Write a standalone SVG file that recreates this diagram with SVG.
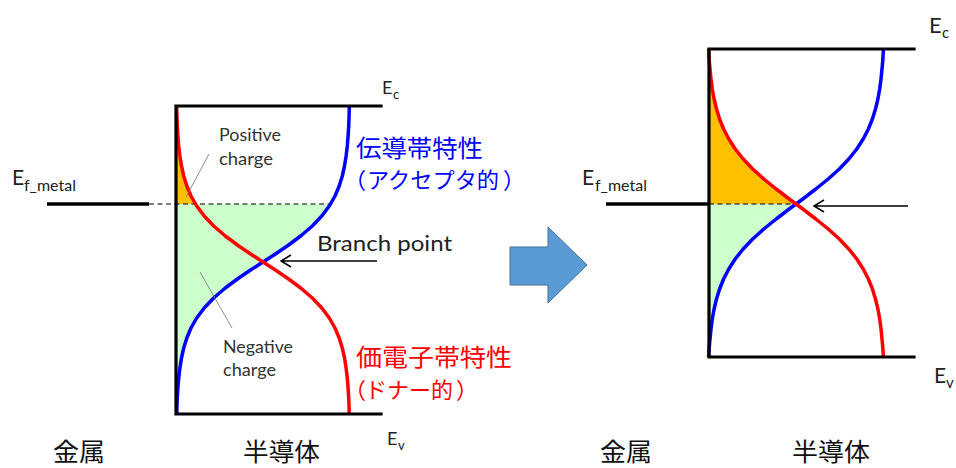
<svg xmlns="http://www.w3.org/2000/svg" xmlns:xlink="http://www.w3.org/1999/xlink" width="956" height="468" viewBox="0 0 956 468">
  <style>
    .lat { font-family: Lato, "Liberation Sans", sans-serif; fill: #222; }
    .note { font-family: Lato, "Liberation Sans", sans-serif; fill: #333; font-size: 17px; }
    .jp { font-family: "Noto Sans CJK JP", "Noto Sans", sans-serif; }
    .band { stroke: #000; stroke-width: 3.2; fill: none; stroke-linecap: square; }
    .ef { stroke: #000; stroke-width: 3.5; fill: none; }
    .dash { stroke: #000; stroke-width: 1.2; stroke-dasharray: 5 3.5; fill: none; }
    .blue { stroke: #0000FF; stroke-width: 3.5; fill: none; stroke-linejoin: round; }
    .red { stroke: #FF0000; stroke-width: 3.5; fill: none; stroke-linejoin: round; }
    .pos { fill: #FFC000; }
    .neg { fill: #CCFFCC; }
    .lead { stroke: #808080; stroke-width: 0.9; }
    .arr { stroke: #000; stroke-width: 1.5; fill: none; }
  </style>
  <defs>
    <!-- acceptor-like (conduction band) state curves; the donor-like curves are their mirror images -->
    <path id="curveL" d="M349.3,106 L349.1,116 L348.7,126 L348.1,136 L347.3,146 L346.1,156 L344.5,166 L342.3,176 L339.2,186 L335,196 L329.3,206 L321.8,216 L312.3,226 L300.7,236 L287.2,246 L275.4,254 L263,262 L250.6,270 L238.8,278 L225.3,288 L213.7,298 L204.2,308 L196.7,318 L191,328 L186.8,338 L183.7,348 L181.5,358 L179.9,368 L178.7,378 L177.9,388 L177.3,398 L176.9,408 L176.8,414"/>
    <path id="curveR" d="M883.4,49 L882.9,59 L882,69 L881,79 L879.7,89 L877.9,99 L875.5,109 L872.4,119 L868.4,129 L863.2,139 L856.8,149 L848.8,159 L839.3,169 L828.2,179 L815.8,189 L802.8,199 L796,204 L789.2,209 L776.2,219 L763.8,229 L752.7,239 L743.2,249 L735.2,259 L728.8,269 L723.6,279 L719.6,289 L716.5,299 L714.1,309 L712.3,319 L711,329 L710,339 L709.1,349 L708.6,357"/>
  </defs>

  <!-- left: metal / semiconductor interface before equilibrium -->
  <g id="left-diagram">
    <g id="left-charge">
      <polygon class="pos" points="176,106 176.7,106 176.9,116 177.3,126 177.9,136 178.7,146 179.9,156 181.5,166 183.7,176 186.8,186 191,196 195.5,204 176,204"/>
      <polygon class="neg" points="176,204 330.5,204 329.3,206 321.8,216 312.3,226 300.7,236 287.2,246 275.4,254 263,262 250.6,270 238.8,278 225.3,288 213.7,298 204.2,308 196.7,318 191,328 186.8,338 183.7,348 181.5,358 179.9,368 178.7,378 177.9,388 177.3,398 176.9,408 176.8,414 176,414"/>
    </g>
    <line class="ef" x1="47" y1="204" x2="149" y2="204"/>
    <line class="dash" x1="149" y1="204" x2="331" y2="204"/>
    <use xlink:href="#curveL" class="blue"/>
    <use xlink:href="#curveL" class="red" transform="translate(526,0) scale(-1,1)"/>
    <path class="band" d="M381,106 H176 V414 H381"/>
  </g>

  <!-- right: after equilibrium, Fermi level pinned at the branch point -->
  <g id="right-diagram">
    <g id="right-charge">
      <polygon class="pos" points="709,49 709.1,59 710,69 711,79 712.3,89 714.1,99 716.5,109 719.6,119 723.6,129 728.8,139 735.2,149 743.2,159 752.7,169 763.8,179 776.2,189 789.2,199 796,204 709,204"/>
      <polygon class="neg" points="709,204 796,204 789.2,209 776.2,219 763.8,229 752.7,239 743.2,249 735.2,259 728.8,269 723.6,279 719.6,289 716.5,299 714.1,309 712.3,319 711,329 710,339 709.1,349 708.6,357 709,357"/>
    </g>
    <line class="ef" x1="606" y1="204" x2="709" y2="204"/>
    <line class="dash" x1="709" y1="204" x2="796" y2="204"/>
    <use xlink:href="#curveR" class="blue"/>
    <use xlink:href="#curveR" class="red" transform="translate(1592,0) scale(-1,1)"/>
    <path class="band" d="M914,49 H709 V357 H914"/>
  </g>

  <!-- pointers and the transition arrow -->
  <g id="connectors">
    <line class="lead" x1="209" y1="154" x2="186" y2="197"/>
    <line class="lead" x1="200" y1="272" x2="232" y2="328"/>
    <path class="arr" d="M377,261 H282 M291,255 L281,261 L291,267"/>
    <path class="arr" d="M908,206 H815 M824,200 L814,206 L824,212"/>
    <polygon points="510,247 548,247 548,227 587,265 548,303 548,285 510,285" fill="#5B9BD5" stroke="#41719C" stroke-width="1"/>
  </g>

  <!-- level labels -->
  <g id="labels-left">
    <text class="lat" x="382" y="94" font-size="18">E<tspan x="393" y="99" font-size="13">c</tspan></text>
    <text class="lat" x="387" y="445" font-size="18">E<tspan x="398" y="450" font-size="13">v</tspan></text>
    <text class="lat" x="12" y="185" font-size="21">E<tspan x="24" y="191" font-size="16">f_metal</tspan></text>
    <text class="lat" x="317" y="251" font-size="22" textLength="135" lengthAdjust="spacingAndGlyphs">Branch point</text>
    <text class="note" x="219" y="141" textLength="62" lengthAdjust="spacingAndGlyphs">Positive</text>
    <text class="note" x="219" y="165" textLength="54" lengthAdjust="spacingAndGlyphs">charge</text>
    <text class="note" x="223" y="353" textLength="70" lengthAdjust="spacingAndGlyphs">Negative</text>
    <text class="note" x="223" y="376" textLength="53" lengthAdjust="spacingAndGlyphs">charge</text>
  </g>
  <g id="labels-right">
    <text class="lat" x="929" y="33" font-size="22">E<tspan x="942" y="38" font-size="15">c</tspan></text>
    <text class="lat" x="934" y="383" font-size="21">E<tspan x="946" y="388" font-size="15">v</tspan></text>
    <text class="lat" x="582" y="185" font-size="21">E<tspan x="595" y="191" font-size="16">f_metal</tspan></text>
  </g>

  <g id="state-labels" class="jp">
    <text x="356" y="157" font-size="24" fill="#0000FF" textLength="127" lengthAdjust="spacingAndGlyphs">伝導帯特性</text>
    <text y="188" font-size="22" fill="#0000FF"><tspan x="344">（</tspan><tspan x="367" textLength="132" lengthAdjust="spacingAndGlyphs">アクセプタ的</tspan><tspan x="503">）</tspan></text>
    <text x="356" y="366" font-size="24" fill="#FF0000" textLength="156" lengthAdjust="spacingAndGlyphs">価電子帯特性</text>
    <text y="398" font-size="22" fill="#FF0000"><tspan x="344">（</tspan><tspan x="365" textLength="88" lengthAdjust="spacingAndGlyphs">ドナー的</tspan><tspan x="456">）</tspan></text>
  </g>

  <g id="region-labels" class="jp" font-size="25" fill="#111">
    <text x="53" y="461" textLength="52" lengthAdjust="spacingAndGlyphs">金属</text>
    <text x="243" y="461" textLength="77" lengthAdjust="spacingAndGlyphs">半導体</text>
    <text x="600" y="461" textLength="52" lengthAdjust="spacingAndGlyphs">金属</text>
    <text x="792" y="461" textLength="78" lengthAdjust="spacingAndGlyphs">半導体</text>
  </g>
</svg>
